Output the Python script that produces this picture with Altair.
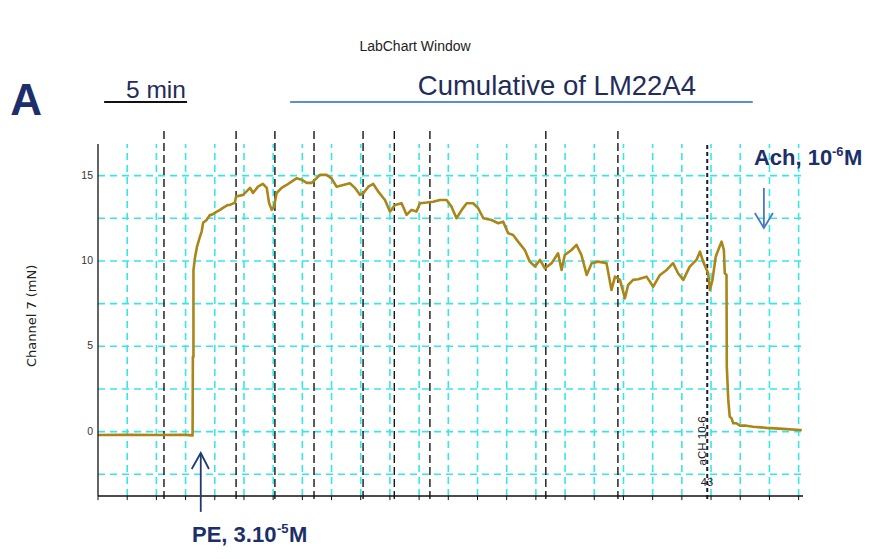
import altair as alt
import pandas as pd

# ---- data (x in grid divisions, y in mN) ----
trace_x = [0, 1.0, 2.0, 3.0, 3.24, 3.25, 3.27, 3.27, 3.32, 3.39, 3.49, 3.55, 3.60, 3.72, 3.84, 3.89,
           4.07, 4.18, 4.28, 4.45, 4.52, 4.69, 4.73, 4.97, 5.21, 5.31, 5.48, 5.65, 5.78, 5.86, 5.95,
           6.03, 6.12, 6.29, 6.46, 6.63, 6.80, 6.98, 7.15, 7.32, 7.43, 7.60, 7.83, 8.00, 8.17, 8.40,
           8.63, 8.80, 8.97, 9.09, 9.26, 9.43, 9.60, 9.83, 10.0, 10.17, 10.40, 10.57, 10.74, 10.91,
           11.03, 11.26, 11.48, 11.71, 11.94, 12.11, 12.28, 12.46, 12.63, 12.85, 13.02, 13.20, 13.48,
           13.71, 13.88, 14.05, 14.22, 14.39, 14.62, 14.79, 14.97, 15.14, 15.31, 15.54, 15.76, 15.88,
           15.99, 16.22, 16.39, 16.56, 16.74, 16.91, 17.13, 17.42, 17.59, 17.71, 17.88, 18.05, 18.16,
           18.33, 18.50, 18.79, 19.02, 19.25, 19.48, 19.70, 19.87, 20.05, 20.27, 20.50, 20.62, 20.73,
           20.90, 20.96, 21.05, 21.16, 21.27, 21.36, 21.44, 21.47, 21.53, 21.54, 21.59, 21.64, 21.70,
           21.76, 21.87, 21.99, 22.21, 22.44, 22.90, 23.47, 24.04, 24.11]
trace_y = [-0.2, -0.18, -0.2, -0.19, -0.22, 4.38, 4.38, 9.46, 10.17, 10.82, 11.41, 11.72, 12.23, 12.40,
           12.70, 12.70, 12.89, 12.99, 13.11, 13.28, 13.28, 13.42, 13.77, 13.87, 14.28, 13.98, 14.35,
           14.51, 14.28, 13.40, 12.99, 13.18, 13.98, 14.28, 14.45, 14.65, 14.84, 14.75, 14.57, 14.57,
           14.75, 15.04, 15.04, 14.84, 14.35, 14.45, 14.55, 14.28, 13.87, 13.97, 14.35, 14.51, 14.06,
           13.57, 12.89, 13.28, 13.38, 12.70, 12.99, 12.89, 13.38, 13.42, 13.47, 13.57, 13.57, 13.18,
           12.50, 12.99, 13.38, 13.38, 13.09, 12.50, 12.40, 12.21, 12.30, 11.62, 11.52, 11.13, 10.64,
           9.96, 9.67, 10.06, 9.57, 9.87, 10.45, 9.47, 10.35, 10.64, 10.94, 10.35, 9.18, 9.87, 9.96,
           9.87, 8.30, 9.08, 8.89, 7.81, 8.59, 8.89, 8.93, 9.08, 8.49, 9.18, 9.47, 9.87, 9.28, 8.89,
           9.67, 10.06, 10.54, 9.96, 9.28, 8.30, 8.89, 10.25, 10.74, 11.13, 10.64, 9.28, 9.18, 3.81,
           1.86, 0.88, 0.79, 0.49, 0.49, 0.35, 0.35, 0.29, 0.22, 0.16, 0.10, 0.10]

event_x = [2.26, 4.73, 6.06, 7.40, 9.08, 10.15, 11.37, 15.34, 17.81]
ach_event_x = [20.87]
grid_x = list(range(1, 25))
grid_y = [-2.5, 0, 2.5, 5, 7.5, 10, 12.5, 15]
y_ticks = [0, 5, 10, 15]
y_tick_labels = ["0", "5", "10", "15"]
x_ticks = list(range(0, 25))

X_DOM = [0, 24.15]
Y_DOM = [-3.77, 17.67]
Y_TOP = 16.85
TICK_LEN = 0.24  # ~4 px below the x axis

NAVY = "#1c2f6a"
CYAN = "#38e6e6"
TRACE = "#aa8619"
FONT = "Liberation Sans, Arial, sans-serif"
NARROW = "Liberation Sans Narrow, Arial Narrow, Liberation Sans, sans-serif"

xs = alt.Scale(domain=X_DOM, nice=False, zero=False)
ys = alt.Scale(domain=Y_DOM, nice=False, zero=False)


def X(f="x:Q", **kw):
    return alt.X(f, scale=xs, axis=None, **kw)


def Y(f="y:Q", **kw):
    return alt.Y(f, scale=ys, axis=None, **kw)


trace_df = pd.DataFrame({"x": trace_x, "y": trace_y, "i": range(len(trace_x))})

vgrid = alt.Chart(pd.DataFrame({"x": grid_x, "y": Y_DOM[0], "y2": Y_TOP})).mark_rule(
    color=CYAN, strokeWidth=1.6, strokeDash=[7, 5]
).encode(x=X(), y=Y(), y2="y2:Q")

hgrid = alt.Chart(pd.DataFrame({"y": grid_y, "x": X_DOM[0], "x2": X_DOM[1]})).mark_rule(
    color=CYAN, strokeWidth=1.6, strokeDash=[7, 5]
).encode(x=X(), x2="x2:Q", y=Y())

events = alt.Chart(pd.DataFrame({"x": event_x, "y": -3.95, "y2": Y_DOM[1]})).mark_rule(
    color="#151515", strokeWidth=1.4, strokeDash=[8, 4]
).encode(x=X(), y=Y(), y2="y2:Q")

ach_line = alt.Chart(pd.DataFrame({"x": ach_event_x, "y": -3.95, "y2": Y_DOM[1] - 0.8})).mark_rule(
    color="#14202e", strokeWidth=2, strokeDash=[4, 3]
).encode(x=X(), y=Y(), y2="y2:Q")

# axes drawn as rules
yaxis_line = alt.Chart(pd.DataFrame({"x": [0], "y": [Y_DOM[0]], "y2": [Y_TOP]})).mark_rule(
    color="#111111", strokeWidth=1.3
).encode(x=X(), y=Y(), y2="y2:Q")

xaxis_line = alt.Chart(pd.DataFrame({"x": [X_DOM[0]], "x2": [X_DOM[1]], "y": [Y_DOM[0]]})).mark_rule(
    color="#111111", strokeWidth=1.3
).encode(x=X(), x2="x2:Q", y=Y())

xticks = alt.Chart(pd.DataFrame({"x": x_ticks, "y": Y_DOM[0], "y2": Y_DOM[0] - TICK_LEN})).mark_rule(
    color="#111111", strokeWidth=1
).encode(x=X(), y=Y(), y2="y2:Q")

ylabels = alt.Chart(pd.DataFrame({"x": -0.17, "y": y_ticks, "t": y_tick_labels})).mark_text(
    align="right", baseline="middle", fontSize=10.5, color="#333333", font=NARROW
).encode(x=X(), y=Y(), text="t:N")

trace = alt.Chart(trace_df).mark_line(color=TRACE, strokeWidth=2.6, interpolate="linear",
                                      strokeJoin="round").encode(
    x=X(), y=Y(), order="i:Q",
)

# annotation segments (scale bar, bracket line, arrows)
seg_df = pd.DataFrame({
    "g": ["bar", "bar", "cum", "cum",
          "pe_s", "pe_s", "pe_h", "pe_h", "pe_h",
          "ach_s", "ach_s", "ach_h", "ach_h", "ach_h"],
    "x": [0.21, 3.05, 6.58, 22.43,
          3.52, 3.52, 3.21, 3.52, 3.80,
          22.81, 22.81, 22.50, 22.81, 23.12],
    "y": [19.31, 19.31, 19.31, 19.31,
          -1.25, -4.70, -2.19, -1.25, -2.19,
          14.28, 11.93, 12.81, 11.93, 12.81],
    "c": ["k", "k", "lb", "lb", "nv", "nv", "nv", "nv", "nv", "ab", "ab", "ab", "ab", "ab"],
    "o": list(range(14)),
})
segs = alt.Chart(seg_df).mark_line(strokeWidth=1.8).encode(
    x=X(), y=Y(), detail="g:N", order="o:Q",
    color=alt.Color("c:N", scale=alt.Scale(domain=["k", "lb", "nv", "ab"],
                                          range=["#111111", "#5b8fd0", "#1f3a6e", "#4a78c0"]),
                    legend=None),
)


def label(text, x, y, size, color=NAVY, bold=False, align="left", baseline="alphabetic",
          angle=0, font=FONT, dx=0, dy=0):
    return alt.Chart(pd.DataFrame({"x": [x], "y": [y], "t": [text]})).mark_text(
        fontSize=size, color=color, fontWeight="bold" if bold else "normal", align=align,
        baseline=baseline, angle=angle, font=font, dx=dx, dy=dy
    ).encode(x=X(), y=Y(), text="t:N")


texts = [
    label("LabChart Window", 10.86, 22.54, 14, color="#222222", align="center", baseline="middle", font=NARROW),
    label("A", -3.01, 18.55, 44, bold=True),
    label("5 min", 0.96, 19.55, 24.5, color="#1f2d5a"),
    label("Cumulative of LM22A4", 15.72, 19.73, 27.5, color="#1f2d5a", align="center"),
    # Ach, 10^-6 M
    label("Ach, 10", 22.47, 15.63, 22, bold=True),
    label("-6", 22.47, 15.63, 13, bold=True, dx=78, dy=-9),
    label("M", 22.47, 15.63, 22, bold=True, dx=90),
    # PE, 3.10^-5 M
    label("PE, 3.10", 3.22, -6.45, 22, bold=True),
    label("-5", 3.22, -6.45, 13, bold=True, dx=85, dy=-9),
    label("M", 3.22, -6.45, 22, bold=True, dx=97),
    label("aCH 10-6", 20.72, -0.54, 11.5, color="#222222", align="center", baseline="middle", angle=270, font=NARROW),
    label("43", 20.86, -3.01, 11, color="#222222", align="center", baseline="middle", font=NARROW),
    label("Channel 7 (mN)", -2.26, 6.78, 13, color="#222222", align="center", baseline="middle",
          angle=270, font="DejaVu Sans, sans-serif"),
]

chart = alt.layer(vgrid, hgrid, events, ach_line, trace, yaxis_line, xaxis_line, xticks, ylabels,
                  segs, *texts).properties(
    width=705, height=366,
    autosize=alt.AutoSizeParams(type="none"),
    padding={"left": 90, "top": 122, "right": 60, "bottom": 52},
    background="white",
).configure_view(stroke=None)

chart.save("out.html", embed_options={"renderer": "svg", "actions": False})
